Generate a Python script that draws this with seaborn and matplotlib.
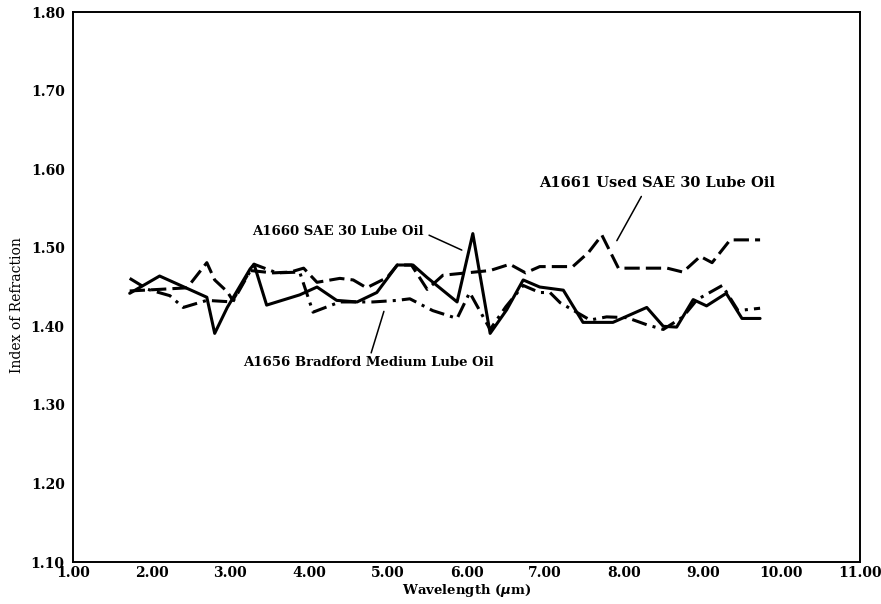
import seaborn as sns
import pandas as pd
import matplotlib.pyplot as plt

# A1660 SAE 30 Lube Oil (solid)
sae30_wl = [1.72, 2.10, 2.70, 2.80, 2.96, 3.25, 3.30, 3.46, 3.88, 4.10, 4.35, 4.61, 4.86,
            5.12, 5.32, 5.50, 5.88, 6.08, 6.30, 6.51, 6.72, 6.93, 7.23, 7.48, 7.86, 8.29,
            8.50, 8.67, 8.88, 9.05, 9.30, 9.50, 9.73]
sae30_n = [1.442, 1.464, 1.437, 1.391, 1.424, 1.473, 1.479, 1.427, 1.440, 1.450, 1.433,
           1.431, 1.443, 1.478, 1.478, 1.462, 1.431, 1.518, 1.391, 1.421, 1.459, 1.450,
           1.446, 1.405, 1.405, 1.424, 1.400, 1.399, 1.434, 1.426, 1.442, 1.410, 1.410]

# A1661 Used SAE 30 Lube Oil (dashed)
used_wl = [1.72, 2.10, 2.45, 2.70, 2.80, 2.96, 3.03, 3.25, 3.54, 3.76, 3.93, 4.10, 4.39,
           4.56, 4.73, 4.99, 5.12, 5.30, 5.50, 5.70, 6.00, 6.30, 6.55, 6.75, 6.93, 7.35,
           7.55, 7.72, 7.93, 8.55, 8.75, 8.97, 9.12, 9.35, 9.73]
used_n = [1.445, 1.447, 1.449, 1.481, 1.459, 1.444, 1.433, 1.471, 1.468, 1.469, 1.474,
          1.456, 1.461, 1.459, 1.449, 1.462, 1.478, 1.478, 1.447, 1.465, 1.468, 1.471,
          1.479, 1.468, 1.476, 1.476, 1.494, 1.516, 1.474, 1.474, 1.469, 1.489, 1.481,
          1.510, 1.510]

# A1656 Bradford Medium Lube Oil (dash-dot)
brad_wl = [1.72, 1.95, 2.23, 2.40, 2.70, 3.03, 3.30, 3.59, 3.88, 4.05, 4.39, 4.81, 5.12,
           5.28, 5.57, 5.88, 6.04, 6.30, 6.50, 6.72, 6.93, 7.06, 7.19, 7.57, 7.78, 8.04,
           8.29, 8.50, 8.75, 8.93, 9.25, 9.45, 9.73]
brad_n = [1.461, 1.447, 1.439, 1.424, 1.433, 1.431, 1.479, 1.468, 1.469, 1.418, 1.431,
          1.431, 1.433, 1.435, 1.420, 1.410, 1.443, 1.396, 1.425, 1.452, 1.443, 1.443,
          1.430, 1.408, 1.412, 1.411, 1.402, 1.396, 1.412, 1.434, 1.452, 1.420, 1.423]

labels = ['A1660 SAE 30 Lube Oil', 'A1661 Used SAE 30 Lube Oil',
          'A1656 Bradford Medium Lube Oil']
x_ticks = [1.00, 2.00, 3.00, 4.00, 5.00, 6.00, 7.00, 8.00, 9.00, 10.00, 11.00]
y_ticks = [1.10, 1.20, 1.30, 1.40, 1.50, 1.60, 1.70, 1.80]

df = pd.concat([
    pd.DataFrame({'wavelength': sae30_wl, 'n': sae30_n, 'sample': labels[0]}),
    pd.DataFrame({'wavelength': used_wl, 'n': used_n, 'sample': labels[1]}),
    pd.DataFrame({'wavelength': brad_wl, 'n': brad_n, 'sample': labels[2]}),
])

sns.set_theme(style='white')
plt.rcParams['font.family'] = ['DejaVu Serif']
plt.rcParams['font.weight'] = 'bold'
plt.rcParams['text.color'] = 'black'
plt.rcParams['axes.labelcolor'] = 'black'

fig = plt.figure(figsize=(8.81, 6.04), dpi=100)
ax = fig.add_axes([0.0829, 0.0695, 0.8933, 0.9106])

dashes = {labels[0]: '', labels[1]: (5, 2), labels[2]: (5, 2, 1, 2)}
sns.lineplot(data=df, x='wavelength', y='n', style='sample', dashes=dashes,
             color='black', linewidth=2.2, estimator=None, legend=False, ax=ax)

ax.set_xlim(1.0, 11.0)
ax.set_ylim(1.10, 1.80)
ax.set_xticks(x_ticks)
ax.set_yticks(y_ticks)
ax.set_xticklabels([f'{t:.2f}' for t in x_ticks], fontsize=10, fontweight='bold')
ax.set_yticklabels([f'{t:.2f}' for t in y_ticks], fontsize=10, fontweight='bold')
ax.tick_params(axis='both', direction='in', length=16, width=1.2, color='black',
               labelcolor='black')
ax.tick_params(axis='x', pad=3)
ax.tick_params(axis='y', pad=6)
for sp in ax.spines.values():
    sp.set_color('black')
    sp.set_linewidth(1.4)

ax.set_xlabel('Wavelength ($\\mu$m)', fontsize=9.5, fontweight='bold')
ax.set_ylabel('Index of Refraction', fontsize=10, fontweight='normal')
ax.xaxis.set_label_coords(0.5, -0.036)
ax.yaxis.set_label_coords(-0.062, 0.467)

# curve labels with leader lines
ax.annotate(labels[1], xy=(7.91, 1.509), xytext=(8.42, 1.583),
            ha='center', va='center', fontsize=10.5, fontweight='bold',
            arrowprops=dict(arrowstyle='-', color='black', lw=1.1,
                            shrinkA=3, shrinkB=0, relpos=(0.45, 0)))
ax.annotate(labels[0], xy=(5.94, 1.497), xytext=(5.45, 1.521),
            ha='right', va='center', fontsize=9.5, fontweight='bold',
            arrowprops=dict(arrowstyle='-', color='black', lw=1.1,
                            shrinkA=2, shrinkB=0, relpos=(1, 0.4)))
ax.annotate(labels[2], xy=(4.95, 1.419), xytext=(4.75, 1.362),
            ha='center', va='top', fontsize=9.5, fontweight='bold',
            arrowprops=dict(arrowstyle='-', color='black', lw=1.1,
                            shrinkA=0, shrinkB=0))

fig.savefig('out.png', dpi=100)
